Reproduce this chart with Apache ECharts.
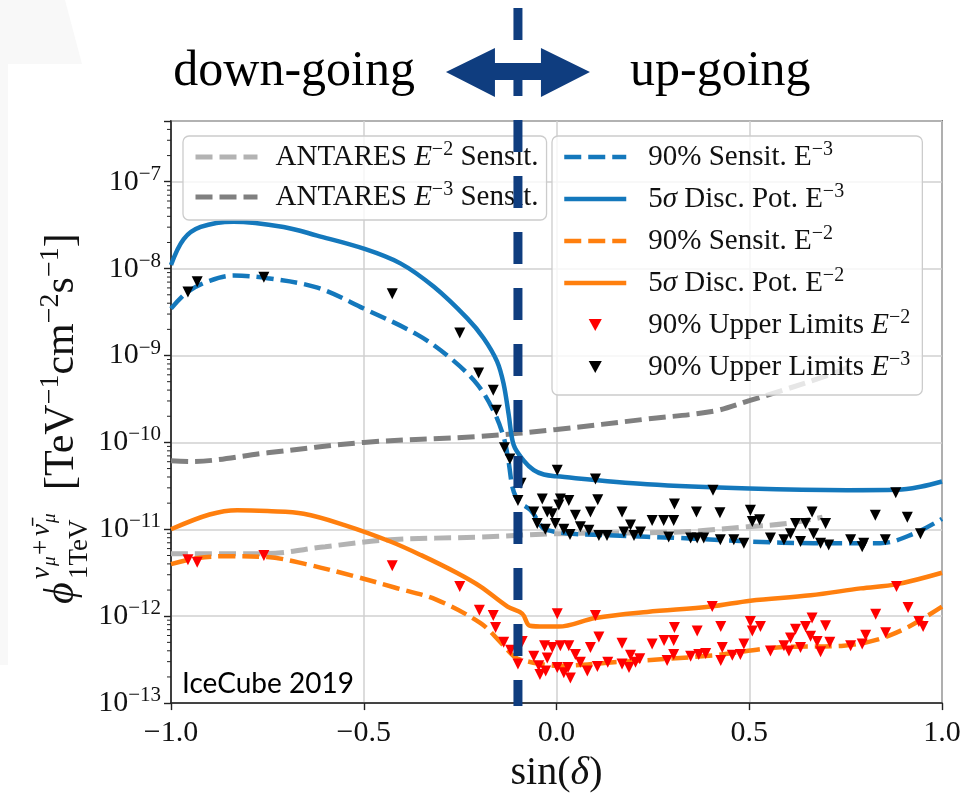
<!DOCTYPE html>
<html>
<head>
<meta charset="utf-8">
<script src="https://cdn.jsdelivr.net/npm/echarts@6/dist/echarts.min.js"></script>
<style>
  html, body { margin: 0; padding: 0; background: #fff; }
  #chart { width: 978px; height: 798px; }
</style>
</head>
<body>
<div id="chart"></div>
<script>
// sin(declination) vs. flux normalisation

// 90% sensitivity E^-3 (blue dashed)
const sensE3X = [-1, -0.958, -0.9, -0.837, -0.75, -0.62, -0.5, -0.361, -0.275, -0.206, -0.163, -0.137, -0.125, -0.115, -0.105, -0.093, -0.067, -0.024, 0.149, 0.32, 0.5, 0.667, 0.84, 0.927, 1]
const sensE3Y = [3.47e-9, 5.37e-9, 7.24e-9, 8.32e-9, 7.76e-9, 6.03e-9, 3.47e-9, 1.74e-9, 9.33e-10, 4.68e-10, 2.29e-10, 1.15e-10, 6.31e-11, 3.16e-11, 2.34e-11, 2.0e-11, 1.66e-11, 9.77e-12, 8.51e-12, 7.94e-12, 7.24e-12, 6.92e-12, 6.92e-12, 8.91e-12, 1.32e-11]

// 5 sigma discovery potential E^-3 (blue solid)
const discE3X = [-1, -0.967, -0.923, -0.838, -0.708, -0.621, -0.5, -0.405, -0.318, -0.232, -0.189, -0.154, -0.137, -0.124, -0.111, -0.085, -0.059, -0.033, 0, 0.235, 0.5, 0.754, 0.884, 0.944, 1]
const discE3Y = [1.10e-8, 2.19e-8, 3.02e-8, 3.47e-8, 3.02e-8, 2.40e-8, 1.70e-8, 1.15e-8, 6.17e-9, 2.69e-9, 1.58e-9, 8.51e-10, 4.68e-10, 2.09e-10, 9.33e-11, 6.17e-11, 4.79e-11, 4.27e-11, 4.07e-11, 3.31e-11, 2.95e-11, 2.82e-11, 2.85e-11, 3.09e-11, 3.55e-11]

// 90% sensitivity E^-2 (orange dashed)
const sensE2X = [-1, -0.93, -0.855, -0.75, -0.65, -0.524, -0.42, -0.312, -0.197, -0.145, -0.111, -0.085, 0.002, 0.149, 0.408, 0.572, 0.745, 0.832, 0.901, 0.953, 1]
const sensE2Y = [3.98e-12, 4.68e-12, 4.90e-12, 4.79e-12, 3.98e-12, 2.88e-12, 2.14e-12, 1.55e-12, 8.32e-13, 5.01e-13, 3.47e-13, 3.09e-13, 2.69e-13, 2.95e-13, 3.55e-13, 4.37e-13, 4.57e-13, 5.37e-13, 7.08e-13, 9.55e-13, 1.29e-12]

// 5 sigma discovery potential E^-2 (orange solid)
const discE2X = [-1, -0.9, -0.828, -0.75, -0.656, -0.55, -0.431, -0.35, -0.259, -0.197, -0.127, -0.089, -0.069, -0.03, 0.005, 0.101, 0.235, 0.4, 0.503, 0.659, 0.789, 0.884, 1]
const discE2Y = [1.0e-11, 1.48e-11, 1.66e-11, 1.62e-11, 1.51e-11, 1.12e-11, 7.24e-12, 5.01e-12, 3.16e-12, 2.19e-12, 1.29e-12, 1.07e-12, 7.76e-13, 7.59e-13, 7.59e-13, 9.55e-13, 1.12e-12, 1.29e-12, 1.51e-12, 1.74e-12, 2.09e-12, 2.34e-12, 3.16e-12]

// ANTARES sensitivities (grey dashed)
const antE3X = [-1, -0.95, -0.75, -0.5, -0.2, 0, 0.235, 0.408, 0.5, 0.58, 0.71, 0.76]
const antE3Y = [6.17e-11, 6.03e-11, 7.59e-11, 1.0e-10, 1.17e-10, 1.41e-10, 1.86e-10, 2.29e-10, 3.02e-10, 3.89e-10, 6.03e-10, 7.41e-10]
const antE2X = [-1, -0.76, -0.6, -0.431, -0.197, 0.005, 0.32, 0.495, 0.6, 0.69]
const antE2Y = [5.25e-12, 5.25e-12, 6.31e-12, 7.59e-12, 8.13e-12, 8.91e-12, 9.33e-12, 1.07e-11, 1.17e-11, 1.38e-11]

// 90% upper limits E^-2 (red triangles)
const ulE2X = [-0.956, -0.932, -0.759, -0.426, -0.251, -0.200, -0.164, -0.158, -0.137, -0.119, -0.089, -0.100, 0.002, 0.101, 0.110,
  -0.059, -0.046, -0.043, -0.031, -0.024, -0.028, -0.011, 0.002, 0.010, 0.019, 0.032, 0.036, 0.030, 0.049, 0.062, 0.080, 0.088, 0.106,
  0.133, 0.170, 0.170, 0.188, 0.192, 0.205, 0.216, 0.248, 0.279, 0.306, 0.304, 0.304, 0.287, 0.365, 0.348, 0.369, 0.387, 0.404,
  0.426, 0.430, 0.426, 0.456, 0.477, 0.486, 0.503, 0.508, 0.529, 0.555, 0.590, 0.603, 0.607, 0.620, 0.633, 0.646, 0.663, 0.659,
  0.676, 0.685, 0.698, 0.709, 0.763, 0.793, 0.802, 0.828, 0.854, 0.882, 0.912, 0.940, 0.951]
const ulE2Y = [4.47e-12, 4.17e-12, 5.01e-12, 3.80e-12, 2.19e-12, 1.17e-12, 1.02e-12, 7.41e-13, 5.01e-13, 4.07e-13, 5.13e-13, 2.82e-13, 1.07e-12, 1.02e-12, 5.75e-13,
  3.47e-13, 2.69e-13, 2.14e-13, 4.57e-13, 3.31e-13, 2.34e-13, 4.37e-13, 2.57e-13, 4.57e-13, 2.24e-13, 4.57e-13, 1.95e-13, 2.57e-13, 3.63e-13, 2.95e-13, 2.34e-13, 4.37e-13, 2.63e-13,
  2.95e-13, 4.90e-13, 2.82e-13, 2.57e-13, 3.55e-13, 2.95e-13, 3.24e-13, 4.79e-13, 5.25e-13, 7.41e-13, 5.25e-13, 3.63e-13, 3.09e-13, 6.76e-13, 3.47e-13, 3.63e-13, 3.72e-13, 1.29e-12,
  7.59e-13, 4.37e-13, 3.09e-13, 3.55e-13, 3.63e-13, 4.79e-13, 8.71e-13, 6.76e-13, 7.59e-13, 3.98e-13, 4.57e-13, 3.98e-13, 5.62e-13, 7.08e-13, 4.37e-13, 7.59e-13, 9.55e-13, 5.89e-13,
  5.13e-13, 3.89e-13, 7.76e-13, 5.01e-13, 4.57e-13, 4.79e-13, 6.03e-13, 1.05e-12, 6.46e-13, 2.19e-12, 1.26e-12, 8.71e-13, 7.59e-13]

// 90% upper limits E^-3 (black triangles)
const ulE3X = [-0.956, -0.932, -0.759, -0.426, -0.251, -0.202, -0.164, -0.156, -0.135, -0.121, -0.092, -0.100, 0.002, 0.101, 0.406, 0.880,
  -0.059, -0.037, -0.024, -0.011, 0.006, 0.010, 0.032, 0.049, 0.088, 0.107, -0.050, -0.029, -0.003, 0.019, 0.035, 0.062, 0.084, 0.110, 0.131,
  0.170, 0.192, 0.175, 0.201, 0.218, 0.248, 0.278, 0.304, 0.306, 0.291, 0.348, 0.365, 0.382, 0.363, 0.424, 0.425, 0.460, 0.486,
  0.503, 0.508, 0.527, 0.555, 0.590, 0.607, 0.620, 0.633, 0.646, 0.663, 0.667, 0.685, 0.698, 0.706, 0.763, 0.797, 0.793, 0.827, 0.853, 0.910, 0.944]
const ulE3Y = [5.37e-9, 7.08e-9, 7.94e-9, 5.13e-9, 1.82e-9, 6.31e-10, 3.98e-10, 2.34e-10, 8.71e-11, 6.46e-11, 3.39e-11, 2.14e-11, 4.79e-11, 3.80e-11, 2.82e-11, 2.63e-11,
  1.58e-11, 2.24e-11, 1.58e-11, 1.51e-11, 1.91e-11, 2.24e-11, 2.14e-11, 1.45e-11, 1.58e-11, 2.19e-11, 1.17e-11, 1.0e-11, 1.17e-11, 1.0e-11, 8.71e-12, 1.07e-11, 9.77e-12, 8.51e-12, 8.51e-12,
  1.58e-11, 1.12e-11, 9.33e-12, 8.51e-12, 9.33e-12, 1.26e-11, 1.26e-11, 1.26e-11, 1.95e-11, 8.13e-12, 7.94e-12, 7.94e-12, 7.94e-12, 1.58e-11, 1.55e-11, 7.59e-12, 7.59e-12, 6.92e-12,
  1.66e-11, 1.23e-11, 1.29e-11, 7.94e-12, 7.59e-12, 8.91e-12, 1.17e-11, 7.24e-12, 1.17e-11, 1.58e-11, 8.91e-12, 6.92e-12, 1.17e-11, 6.61e-12, 7.59e-12, 6.92e-12, 6.31e-12, 1.45e-11, 7.59e-12, 1.38e-11, 8.91e-12]

// axes
const xMin = -1, xMax = 1, xStep = 0.5
const yMin = 1e-13, yMax = 5e-7
const minorMantissas = [2, 3, 4, 5, 6, 7, 8, 9]
const decadeExps = [-13, -12, -11, -10, -9, -8, -7]
const horizonSin = -0.1   // boundary between down-going and up-going

const serif = '"Liberation Serif", "DejaVu Serif", serif'
const navy = '#0f3d7f'
const blue = '#1478bc'
const orange = '#ff7f0e'

const legendText = {
  antE2: 'ANTARES {i|E}{s|−2} Sensit.',
  antE3: 'ANTARES {i|E}{s|−3} Sensit.',
  sensE3: '90% Sensit. E{s|−3}',
  discE3: '5{i|σ} Disc. Pot. E{s|−3}',
  sensE2: '90% Sensit. E{s|−2}',
  discE2: '5{i|σ} Disc. Pot. E{s|−2}',
  ulE2: '90% Upper Limits {i|E}{s|−2}',
  ulE3: '90% Upper Limits {i|E}{s|−3}'
}

const pairs = (xs, ys) => xs.map((x, i) => [x, ys[i]])

const minorTicks = []
decadeExps.forEach(e => {
  minorMantissas.forEach(m => {
    const v = m * Math.pow(10, e)
    if (v < yMax) minorTicks.push([xMin, v])
  })
})

const curve = (name, xs, ys, color, width, dashed, z) => ({
  name: name,
  type: 'line',
  data: pairs(xs, ys),
  symbol: 'none',
  smooth: 0.35,
  z: z,
  silent: true,
  lineStyle: { color: color, width: width, type: dashed ? [17, 7] : 'solid' },
  itemStyle: { color: color },
  emphasis: { disabled: true }
})

const lineItem = (name, w) => ({ name: name, itemStyle: { opacity: 0 }, lineStyle: { width: w } })
const downTri = 'path://M0,0L12,0L6,11Z'

const legendRich = {
  i: { fontFamily: serif, fontSize: 29, fontStyle: 'italic', color: '#111' },
  s: { fontFamily: serif, fontSize: 20, color: '#111', verticalAlign: 'top' }
}
const legendBase = {
  orient: 'vertical',
  itemWidth: 62,
  itemHeight: 12,
  symbolKeepAspect: true,
  backgroundColor: 'rgba(255,255,255,0.8)',
  borderColor: '#cccccc',
  borderWidth: 1.3,
  borderRadius: 6,
  selectedMode: false,
  formatter: n => legendText[n]
}
const legendTextStyle = pad => ({ fontFamily: serif, fontSize: 29, color: '#111', lineHeight: 34, padding: [0, 0, 0, pad], rich: legendRich })

const chart = echarts.init(document.getElementById('chart'))

const option = {
  animation: false,
  backgroundColor: '#fff',
  grid: { left: 171, right: 36, top: 121, bottom: 90, show: true, borderColor: '#222', borderWidth: 1.6 },
  xAxis: {
    type: 'value', min: xMin, max: xMax, interval: xStep,
    name: '{n|sin(}{d|δ}{n|)}', nameLocation: 'middle', nameGap: 48,
    nameTextStyle: {
      rich: {
        n: { fontFamily: serif, fontSize: 40, color: '#111' },
        d: { fontFamily: serif, fontSize: 40, fontStyle: 'italic', color: '#111' }
      }
    },
    axisLine: { show: true, onZero: false, lineStyle: { color: '#222', width: 1.6 } },
    axisTick: { show: true, length: 7, lineStyle: { color: '#222', width: 1.4 } },
    axisLabel: { margin: 15, fontFamily: serif, fontSize: 30, color: '#111', formatter: v => v.toFixed(1).replace('-', '−') },
    splitLine: { show: true, lineStyle: { color: '#d0d0d0', width: 1.5 } }
  },
  yAxis: {
    type: 'log', logBase: 10, min: yMin, max: yMax, splitNumber: 7,
    axisLine: { show: true, onZero: false, lineStyle: { color: '#222', width: 1.6 } },
    axisTick: { show: true, length: 7, lineStyle: { color: '#222', width: 1.4 } },
    axisLabel: {
      margin: 10,
      formatter: v => {
        const lg = Math.log10(v)
        const e = Math.round(lg)
        if (Math.abs(lg - e) > 1e-6) return ''
        return '{b|10}{s|−' + (-e) + '}'
      },
      rich: {
        b: { fontFamily: serif, fontSize: 30, color: '#111', lineHeight: 36 },
        s: { fontFamily: serif, fontSize: 21, color: '#111', verticalAlign: 'top' }
      }
    },
    splitLine: { show: true, lineStyle: { color: '#d0d0d0', width: 1.5 } }
  },
  legend: [
    Object.assign({}, legendBase, {
      left: 183, top: 136, itemGap: 6, padding: [4, 8, 6, 10],
      textStyle: legendTextStyle(13),
      data: [lineItem('antE2', 5), lineItem('antE3', 5)]
    }),
    Object.assign({}, legendBase, {
      left: 552, top: 136, itemGap: 8, padding: [4, 12, 11, 10],
      textStyle: legendTextStyle(17),
      data: [
        lineItem('sensE3', 4.5), lineItem('discE3', 4.5), lineItem('sensE2', 4.5), lineItem('discE2', 4.5),
        { name: 'ulE2', icon: downTri },
        { name: 'ulE3', icon: downTri }
      ]
    })
  ],
  graphic: [
    { type: 'polygon', id: 'shade', z: -10, silent: true,
      shape: { points: [[0, 0], [65, 0], [82, 64], [8, 64], [8, 665], [0, 665]] },
      style: { fill: '#f8f8f8' } },
    { type: 'text', id: 'down', x: 415, y: 72, z: 50,
      style: { text: 'down-going', fontFamily: serif, fontSize: 50, fill: '#000', align: 'right', verticalAlign: 'middle' } },
    { type: 'text', id: 'up', x: 630, y: 72, z: 50,
      style: { text: 'up-going', fontFamily: serif, fontSize: 50, fill: '#000', align: 'left', verticalAlign: 'middle' } },
    { type: 'text', id: 'tag', x: 182, y: 684, z: 50,
      style: { text: 'IceCube 2019', fontFamily: 'Lato, "Open Sans", sans-serif', fontSize: 28, fill: '#000', align: 'left', verticalAlign: 'middle' } },
    { type: 'group', id: 'yname', x: 74, y: 414, rotation: Math.PI / 2, z: 50,
      children: [
        { type: 'text', x: -190, y: -12, style: { text: 'ϕ', fontFamily: serif, fontStyle: 'italic', fontSize: 42, fill: '#111', verticalAlign: 'middle' } },
        { type: 'text', x: -165, y: -32, style: { text: 'ν', fontFamily: serif, fontStyle: 'italic', fontSize: 27, fill: '#111', verticalAlign: 'middle' } },
        { type: 'text', x: -152, y: -24, style: { text: 'μ', fontFamily: serif, fontStyle: 'italic', fontSize: 19, fill: '#111', verticalAlign: 'middle' } },
        { type: 'text', x: -141, y: -32, style: { text: '+', fontFamily: serif, fontSize: 27, fill: '#111', verticalAlign: 'middle' } },
        { type: 'text', x: -122, y: -32, style: { text: 'ν̄', fontFamily: serif, fontStyle: 'italic', fontSize: 27, fill: '#111', verticalAlign: 'middle' } },
        { type: 'text', x: -109, y: -24, style: { text: 'μ', fontFamily: serif, fontStyle: 'italic', fontSize: 19, fill: '#111', verticalAlign: 'middle' } },
        { type: 'text', x: -165, y: 6, style: { text: '1TeV', fontFamily: serif, fontSize: 27, fill: '#111', verticalAlign: 'middle' } },
        { type: 'text', x: -76, y: -12, style: {
            text: '{m|[TeV}{s|−1}{m|cm}{s|−2}{m|s}{s|−1}{m|]}', verticalAlign: 'middle',
            rich: {
              m: { fontFamily: serif, fontSize: 42, fill: '#111', color: '#111', lineHeight: 50 },
              s: { fontFamily: serif, fontSize: 28, fill: '#111', color: '#111', verticalAlign: 'top' }
            }
          } }
      ] }
  ],
  series: [
    curve('antE2', antE2X, antE2Y, '#b3b3b3', 5, true, 2),
    curve('antE3', antE3X, antE3Y, '#808080', 5, true, 2),
    curve('sensE3', sensE3X, sensE3Y, blue, 4.5, true, 3),
    curve('discE3', discE3X, discE3Y, blue, 4.5, false, 3),
    curve('sensE2', sensE2X, sensE2Y, orange, 4.5, true, 3),
    curve('discE2', discE2X, discE2Y, orange, 4.5, false, 3),
    {
      name: 'ulE2', type: 'scatter', data: pairs(ulE2X, ulE2Y),
      symbol: 'triangle', symbolRotate: 180, symbolSize: 11, z: 4, silent: true,
      itemStyle: { color: '#ff0000', opacity: 1 }
    },
    {
      name: 'ulE3', type: 'scatter', data: pairs(ulE3X, ulE3Y),
      symbol: 'triangle', symbolRotate: 180, symbolSize: 11, z: 4, silent: true,
      itemStyle: { color: '#000000', opacity: 1 }
    },
    {
      // log minor ticks on the left spine
      name: 'minorTicks', type: 'custom', data: minorTicks, clip: false, silent: true, z: 6,
      renderItem: (params, api) => {
        const p = api.coord([api.value(0), api.value(1)])
        return { type: 'line', shape: { x1: p[0] - 4, y1: p[1], x2: p[0], y2: p[1] }, style: { stroke: '#222', lineWidth: 1 } }
      }
    }
  ]
}

chart.setOption(option)

// horizon line and double arrow, placed through the axis scale
const lx = chart.convertToPixel({ xAxisIndex: 0 }, horizonSin)
const lyBottom = chart.convertToPixel({ yAxisIndex: 0 }, yMin)
const ay = 72
chart.setOption({
  graphic: [
    { type: 'line', id: 'horizon', z: 100, silent: true,
      shape: { x1: lx, y1: 8, x2: lx, y2: lyBottom + 3 },
      style: { stroke: navy, lineWidth: 9, lineDash: [32, 24] } },
    { type: 'polygon', id: 'arrow', z: 101, silent: true,
      shape: { points: [
        [lx - 72, ay], [lx - 23, ay - 24], [lx - 23, ay - 9], [lx + 23, ay - 9], [lx + 23, ay - 24],
        [lx + 72, ay], [lx + 23, ay + 25], [lx + 23, ay + 8], [lx - 23, ay + 8], [lx - 23, ay + 25]
      ] },
      style: { fill: navy } }
  ]
})
</script>
</body>
</html>
